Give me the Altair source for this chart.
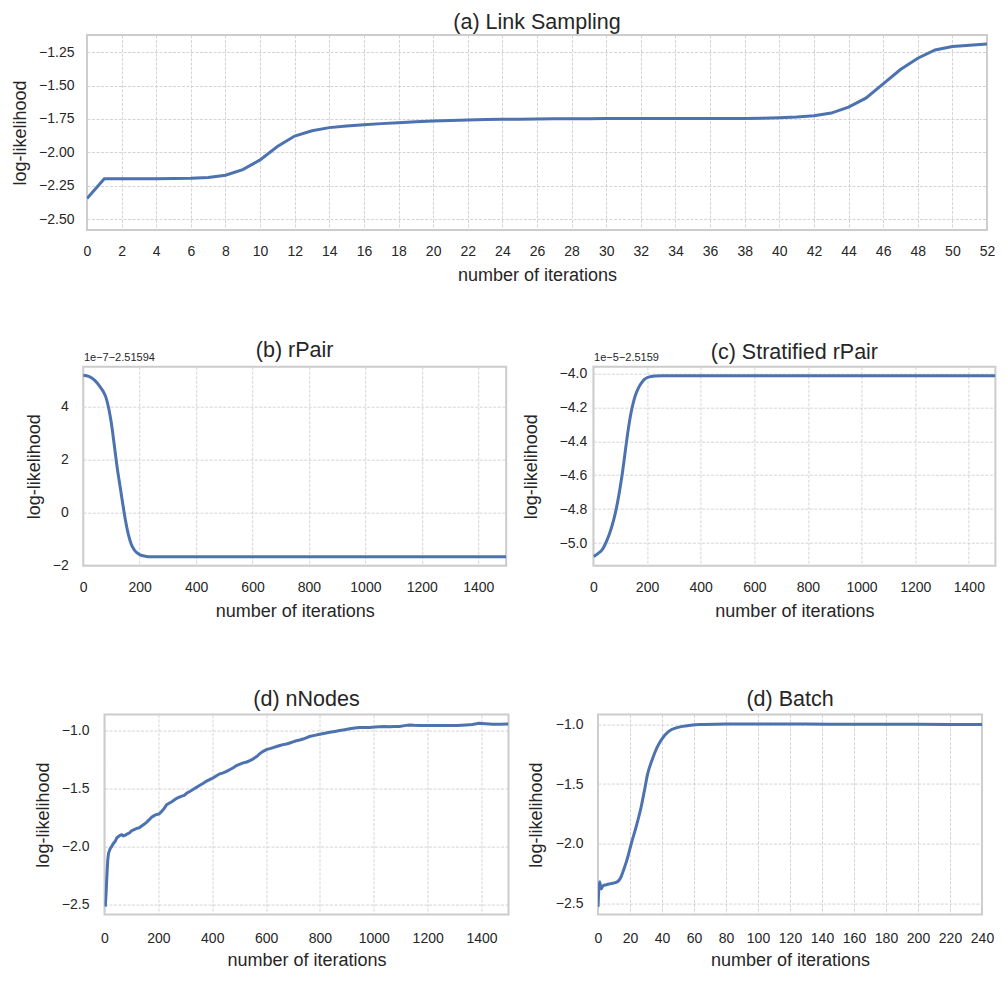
import altair as alt
import pandas as pd

FONT = "Liberation Sans"
TXT = "#262626"
LINE = "#4c72b0"

titles = ["(a) Link Sampling", "(b) rPair", "(c) Stratified rPair", "(d) nNodes", "(d) Batch"]
offset_labels = ["1e\u22127\u22122.51594", "1e\u22125\u22122.5159"]

# (a) Link Sampling
a_x = list(range(53))
a_y = [-2.346, -2.198, -2.198, -2.198, -2.198, -2.197, -2.195, -2.189, -2.172, -2.130,
       -2.057, -1.957, -1.878, -1.838, -1.815, -1.802, -1.793, -1.785, -1.778, -1.771,
       -1.765, -1.761, -1.758, -1.755, -1.753, -1.752, -1.750, -1.749, -1.748, -1.748,
       -1.747, -1.747, -1.747, -1.747, -1.747, -1.747, -1.747, -1.747, -1.746, -1.744,
       -1.741, -1.736, -1.726, -1.706, -1.661, -1.594, -1.487, -1.380, -1.295, -1.233,
       -1.208, -1.197, -1.188]

# (b) rPair (values shown as 1e-7 offsets from -2.51594)
b_x = [0, 20, 40, 60, 70, 80, 90, 100, 110, 120, 130, 140, 150, 160, 170, 180, 190, 200, 220, 240,
       300, 400, 600, 800, 1000, 1200, 1400, 1499]
b_y = [5.18, 5.13, 4.99, 4.74, 4.58, 4.36, 3.95, 3.35, 2.55, 1.72, 1.02, 0.33, -0.32, -0.84, -1.20,
       -1.41, -1.53, -1.60, -1.66, -1.68, -1.68, -1.68, -1.68, -1.68, -1.68, -1.68, -1.68, -1.68]

# (c) Stratified rPair (values shown as 1e-5 offsets from -2.5159)
c_x = [0, 10, 20, 30, 40, 50, 60, 70, 80, 90, 100, 110, 120, 130, 140, 150, 160, 170, 180, 190, 200,
       215, 230, 260, 400, 600, 800, 1000, 1200, 1400, 1499]
c_y = [-5.078, -5.07, -5.058, -5.044, -5.02, -4.985, -4.945, -4.895, -4.835, -4.76, -4.67, -4.565,
       -4.445, -4.33, -4.235, -4.165, -4.115, -4.08, -4.055, -4.036, -4.026, -4.019, -4.016, -4.015,
       -4.015, -4.015, -4.015, -4.015, -4.015, -4.015, -4.015]

# (d) nNodes
d_x = [3, 6, 9, 12, 15, 21, 27, 33, 40, 46, 52, 58, 64, 70, 76, 83, 92, 101, 110, 120, 129, 138, 147, 157,
       166, 175, 184, 194, 203, 212, 221, 231, 240, 250, 259, 268, 278, 287, 296, 305, 318, 330, 342, 354,
       367, 379, 392, 404, 416, 428, 438, 447, 457, 466, 478, 490, 503, 515, 528, 540, 552, 565, 577, 589,
       601, 614, 626, 639, 651, 663, 676, 688, 700, 712, 725, 737, 749, 761, 780, 799, 818, 836, 855, 873,
       892, 910, 929, 947, 966, 984, 1003, 1021, 1040, 1058, 1077, 1095, 1114, 1132, 1150, 1169, 1194,
       1218, 1249, 1280, 1311, 1342, 1366, 1391, 1415, 1440, 1465, 1500]
d_y = [-2.52, -2.40, -2.25, -2.12, -2.06, -2.02, -2.00, -1.975, -1.955, -1.925, -1.915, -1.905, -1.90,
       -1.91, -1.905, -1.895, -1.885, -1.865, -1.855, -1.845, -1.84, -1.825, -1.81, -1.79, -1.77, -1.748,
       -1.735, -1.725, -1.72, -1.70, -1.675, -1.640, -1.628, -1.615, -1.600, -1.586, -1.575, -1.566, -1.56,
       -1.542, -1.525, -1.508, -1.49, -1.472, -1.455, -1.437, -1.422, -1.408, -1.39, -1.374, -1.368, -1.36,
       -1.348, -1.337, -1.322, -1.303, -1.29, -1.28, -1.272, -1.26, -1.245, -1.225, -1.2, -1.18, -1.165,
       -1.157, -1.148, -1.138, -1.13, -1.122, -1.116, -1.108, -1.098, -1.089, -1.082, -1.074, -1.063,
       -1.052, -1.042, -1.032, -1.024, -1.015, -1.008, -1.001, -0.993, -0.986, -0.979, -0.975, -0.975,
       -0.974, -0.971, -0.967, -0.966, -0.967, -0.966, -0.966, -0.958, -0.952, -0.955, -0.957, -0.957,
       -0.957, -0.958, -0.957, -0.956, -0.952, -0.949, -0.938, -0.942, -0.946, -0.946, -0.945]

# (d) Batch
e_x = [0, 1, 2, 3, 5, 8, 12, 14, 16, 18, 21, 24, 27, 29, 31, 34, 37, 40, 44, 50, 58, 66, 80, 100, 130,
       160, 200, 240]
e_y = [-2.53, -2.32, -2.38, -2.355, -2.345, -2.335, -2.32, -2.29, -2.22, -2.14, -1.99, -1.85, -1.69,
       -1.556, -1.417, -1.29, -1.19, -1.12, -1.06, -1.024, -1.006, -1.0, -0.995, -0.995, -0.996, -0.998,
       -0.999, -1.0]

a_xticks = list(range(0, 53, 2))
a_yticks = [-2.50, -2.25, -2.00, -1.75, -1.50, -1.25]
long_xticks = [0, 200, 400, 600, 800, 1000, 1200, 1400]
b_yticks = [-2, 0, 2, 4]
c_yticks = [-5.0, -4.8, -4.6, -4.4, -4.2, -4.0]
d_yticks = [-2.5, -2.0, -1.5, -1.0]
e_xticks = list(range(0, 241, 20))


def panel(xs, ys, title, x_dom, y_dom, x_ticks, y_ticks, y_fmt, w, h, y_ext, y_lp,
          title_y, x_lp, x_ext, interp, offset_text=None):
    df = pd.DataFrame({"x": xs, "y": ys})
    line = alt.Chart(df).mark_line(color=LINE, strokeWidth=3, interpolate=interp, clip=True).encode(
        x=alt.X("x:Q", scale=alt.Scale(domain=x_dom, nice=False, zero=False),
                axis=alt.Axis(values=x_ticks, format="d", title="number of iterations",
                              labelPadding=x_lp, minExtent=x_ext, maxExtent=x_ext, titlePadding=0,
                              labelOverlap=False, labelFlush=False)),
        y=alt.Y("y:Q", scale=alt.Scale(domain=y_dom, nice=False, zero=False),
                axis=alt.Axis(values=y_ticks, format=y_fmt, title="log-likelihood",
                              labelPadding=y_lp, minExtent=y_ext, maxExtent=y_ext, titlePadding=0,
                              labelOverlap=False, labelFlush=False)),
    )
    ttl = alt.Chart(pd.DataFrame({"t": [title]})).mark_text(
        align="center", baseline="middle", fontSize=21.5, color=TXT, font=FONT).encode(
        x=alt.value(w / 2), y=alt.value(title_y), text="t:N")
    layers = [line, ttl]
    if offset_text is not None:
        txt = alt.Chart(pd.DataFrame({"t": [offset_text]})).mark_text(
            align="left", baseline="middle", fontSize=11, color=TXT, font=FONT).encode(
            x=alt.value(0.7), y=alt.value(-9.0), text="t:N")
        layers.append(txt)
    return alt.layer(*layers).properties(width=w, height=h)


def spacer(w):
    return alt.Chart(pd.DataFrame({"s": [0]})).mark_point(opacity=0, size=1).encode(
        x=alt.value(0.25), y=alt.value(0.5)
    ).properties(width=w, height=1, view=alt.ViewBackground(strokeWidth=0))


pa = panel(a_x, a_y, titles[0], [0, 52], [-2.582, -1.121], a_xticks, a_yticks, ".2f",
           900, 195, 57.7, 13.0, -12.0, 14, 36.3, "linear")
pb = panel(b_x, b_y, titles[1], [0, 1499], [-2.02, 5.5], long_xticks, b_yticks, "d",
           423, 199, 39.6, 15.0, -15.5, 15, 36.5, "monotone", offset_text=offset_labels[0])
pc = panel(c_x, c_y, titles[2], [0, 1499], [-5.133, -3.961], long_xticks, c_yticks, ".1f",
           402, 199, 53, 6.7, -13.5, 15, 36.5, "monotone", offset_text=offset_labels[1])
pd1 = panel(d_x, d_y, titles[3], [0, 1500], [-2.589, -0.863], long_xticks, d_yticks, ".1f",
            404, 200, 52.1, 15.5, -15.0, 17, 37, "linear")
pe = panel(e_x, e_y, titles[4], [0, 240], [-2.595, -0.917], e_xticks, d_yticks, ".1f",
           384, 200, 53, 15.0, -15.0, 17, 37, "monotone")

row1 = alt.hconcat(spacer(0.5), pa, spacing=0)
row2 = alt.hconcat(spacer(1), pb, pc, spacing=14.2)
row3 = alt.hconcat(spacer(6.2), pd1, pe, spacing=16.5)
top = alt.vconcat(row1, row2, spacing=52.7)
chart = alt.vconcat(top, row3, spacing=65.6).properties(
    padding={"left": 0, "top": 3, "right": 0, "bottom": 0}
).configure(
    font=FONT,
).configure_view(
    stroke="#cccccc", strokeWidth=2,
).configure_axis(
    domain=False, ticks=False, grid=True, gridColor="#d0d0d0", gridDash=[3, 1.5], gridWidth=0.9,
    labelFont=FONT, labelFontSize=14, labelColor=TXT, titleFont=FONT, titleFontSize=18,
    titleColor=TXT, titleFontWeight="normal",
)

chart.save("out.html", embed_options={"renderer": "svg", "actions": False})
